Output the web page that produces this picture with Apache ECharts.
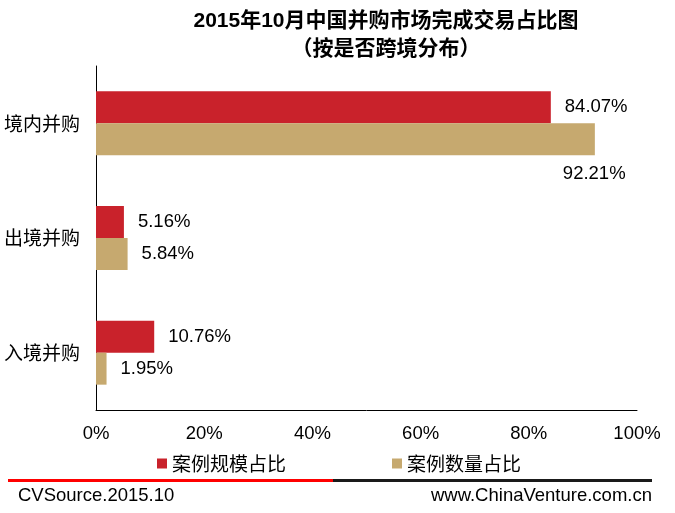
<!DOCTYPE html>
<html><head><meta charset="utf-8">
<script src="https://cdn.jsdelivr.net/npm/echarts@6/dist/echarts.min.js"></script>
<style>html,body{margin:0;padding:0;background:#fff}#c{width:675px;height:513px}</style>
</head><body><div id="c"></div>
<script>
const categories = ['境内并购', '出境并购', '入境并购'];
const scaleShare = [84.07, 5.16, 10.76];
const countShare = [92.21, 5.84, 1.95];
const xTicks = [0, 20, 40, 60, 80, 100];
const seriesNames = ['案例规模占比', '案例数量占比'];

const chart = echarts.init(document.getElementById('c'));
const labelBase = {show: true, position: 'right', distance: 14, color: '#000', fontSize: 18.5,
  fontFamily: 'Liberation Sans, Arial', formatter: p => p.value.toFixed(2) + '%'};
chart.setOption({
  animation: false,
  title: {
    text: '2015年10月中国并购市场完成交易占比图\n（按是否跨境分布）',
    left: 381, top: 2, textAlign: 'center',
    textStyle: {fontSize: 21, fontWeight: 'bold', color: '#000', lineHeight: 28,
      fontFamily: 'Liberation Sans, Noto Sans CJK SC'}
  },
  legend: {
    data: seriesNames, left: 152, top: 449, itemGap: 106, itemWidth: 10, itemHeight: 10,
    icon: 'rect',
    textStyle: {fontSize: 19, color: '#000', fontFamily: 'Noto Sans CJK SC'}
  },
  grid: {left: 96, top: 66, width: 541, height: 344, containLabel: false},
  xAxis: {
    type: 'value', min: 0, max: 100, interval: 20,
    axisLine: {show: true, lineStyle: {color: '#000', width: 1}},
    axisTick: {show: false}, splitLine: {show: false},
    axisLabel: {fontSize: 18.5, color: '#000', margin: 14, fontFamily: 'Liberation Sans, Arial',
      formatter: v => xTicks.includes(v) ? v + '%' : ''}
  },
  yAxis: {
    type: 'category', data: categories, inverse: true,
    axisLine: {show: true, lineStyle: {color: '#000', width: 1}},
    axisTick: {show: false},
    axisLabel: {fontSize: 19, color: '#000', margin: 16, fontFamily: 'Noto Sans CJK SC'}
  },
  series: [
    {name: seriesNames[0], type: 'bar', data: scaleShare, barWidth: 32, barGap: '0%',
      itemStyle: {color: '#C9222B'}, label: labelBase},
    {name: seriesNames[1], type: 'bar', barWidth: 32, barGap: '0%',
      data: countShare.map((v, i) => i === 0 ? {value: v, label: {offset: [-46, 35]}} : v),
      itemStyle: {color: '#C6A96F'}, label: labelBase}
  ],
  graphic: [
    {type: 'rect', shape: {x: 8, y: 479, width: 325, height: 3}, style: {fill: '#FF0000'}},
    {type: 'rect', shape: {x: 333, y: 479, width: 319, height: 3}, style: {fill: '#1a1a1a'}},
    {type: 'text', left: 18, top: 486, style: {text: 'CVSource.2015.10', fontSize: 18.5, fill: '#000', fontFamily: 'Liberation Sans, Arial'}},
    {type: 'text', right: 23, top: 486, style: {text: 'www.ChinaVenture.com.cn', fontSize: 18.5, fill: '#000', fontFamily: 'Liberation Sans, Arial'}}
  ]
});
</script></body></html>
